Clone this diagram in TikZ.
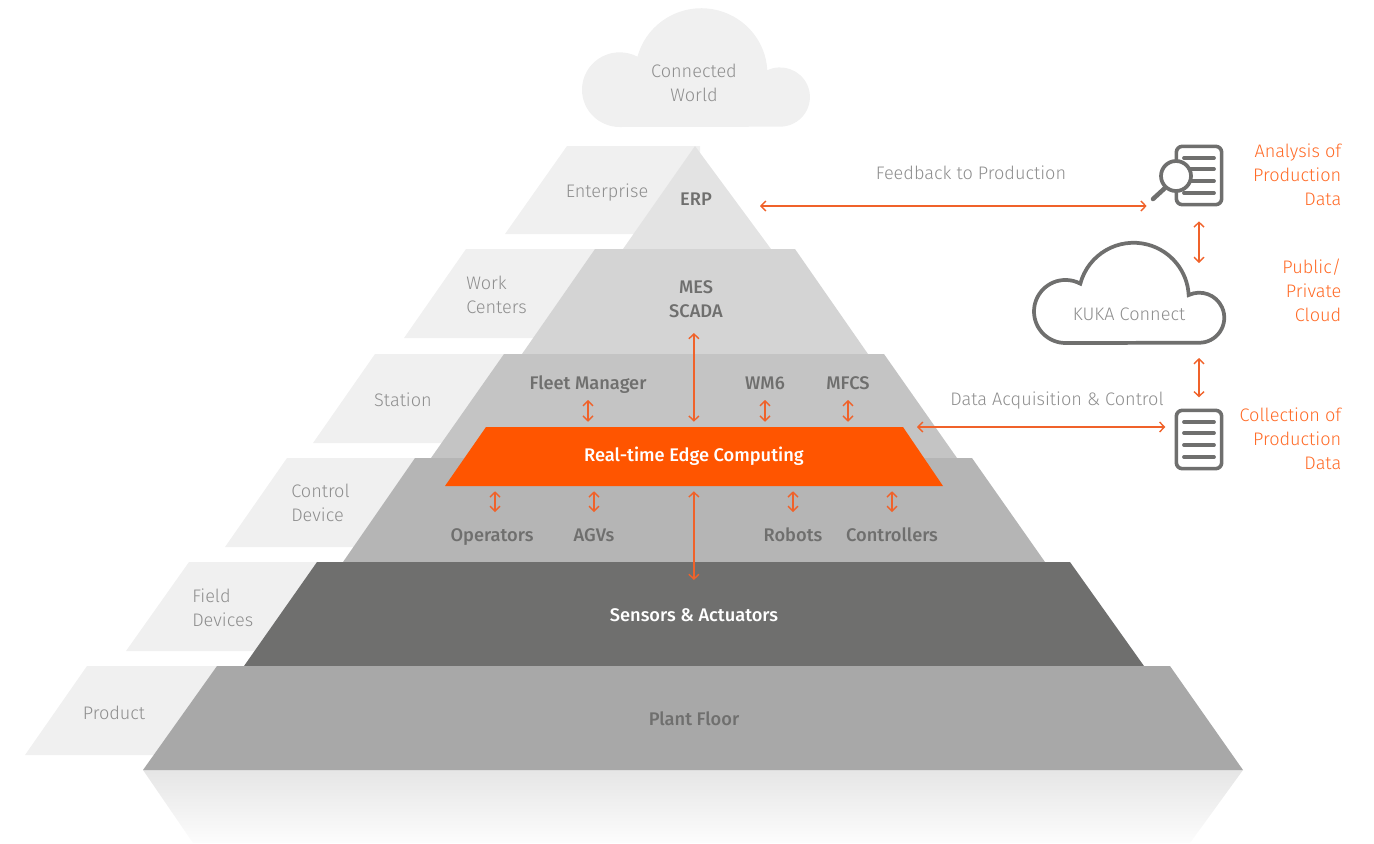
\documentclass[tikz,border=0pt]{standalone}
\usepackage{fontspec}
\setmainfont{Fira Sans}[UprightFont=* Light,BoldFont=* Medium]
\usepackage{tikz}
\usetikzlibrary{arrows.meta}

\definecolor{backgray}{HTML}{F0F0F0}
\definecolor{edgeorange}{HTML}{FF5500}
\definecolor{linkorange}{HTML}{F0622A}
\definecolor{iconorange}{HTML}{FF6A26}
\definecolor{icongray}{HTML}{6F6F6E}
\definecolor{softgray}{HTML}{8E8E8E}

\tikzset{
  softlabel/.style={text=softgray,font=\fontsize{13.6}{18}\selectfont,inner sep=0pt,align=center},
  softleft/.style={softlabel,align=left},
  softone/.style={softlabel,text height=12pt,text depth=3pt},
  hardlabel/.style={text=icongray,font=\fontsize{13.7}{18}\selectfont\bfseries,inner sep=0pt,align=center},
  hardone/.style={hardlabel,text height=12pt,text depth=3pt},
  whitelabel/.style={hardone,text=white},
  sidelabel/.style={text=iconorange,font=\fontsize{13.6}{18}\selectfont,inner sep=0pt,align=right,anchor=east},
  duplex/.style={{Straight Barb[length=3.6pt,width=7.5pt]}-{Straight Barb[length=3.6pt,width=7.5pt]},draw=linkorange,line width=1.05pt},
  docbox/.style={draw=icongray,fill=white,line width=2.7pt,rounded corners=4.5pt,minimum width=34pt,minimum height=43.75pt,inner sep=0pt,outer sep=0pt},
  docline/.style={draw=icongray,line width=2.8pt,line cap=round}
}

\newcommand{\cloudpath}{(32,0) arc (270:62:32) arc (165:3:56) arc (115:-90:25.4) -- cycle}

\begin{document}
\begin{tikzpicture}[x=0.75pt,y=0.75pt]
\useasboundingbox (0,0) rectangle (1374,-843);

% label plates behind the pyramid
\fill[backgray] (567,-146) -- (700,-146) -- (700,-234) -- (505,-234) -- cycle;
\fill[backgray] (466,-249) -- (600,-249) -- (600,-338) -- (404,-338) -- cycle;
\fill[backgray] (375,-354) -- (510,-354) -- (510,-443) -- (313,-443) -- cycle;
\fill[backgray] (287,-458) -- (420,-458) -- (420,-547) -- (225,-547) -- cycle;
\fill[backgray] (189,-562) -- (320,-562) -- (320,-651) -- (126,-651) -- cycle;
\fill[backgray] (87,-666) -- (220,-666) -- (220,-755) -- (25,-755) -- cycle;

% pyramid
\shade[top color=black!10,bottom color=black!1] (143,-770) -- (1243,-770) -- (1190,-843) -- (193,-843) -- cycle;
\fill[black!11] (695,-146) -- (771,-249) -- (623,-249) -- cycle;
\fill[black!17] (595,-249) -- (795,-249) -- (868,-354) -- (522,-354) -- cycle;
\fill[black!23] (504,-354) -- (884,-354) -- (957,-458) -- (431,-458) -- cycle;
\fill[black!29] (415,-458) -- (972,-458) -- (1045,-562) -- (343,-562) -- cycle;
\fill[icongray] (317,-562) -- (1070,-562) -- (1144,-666) -- (244,-666) -- cycle;
\fill[black!34] (217,-666) -- (1170,-666) -- (1243,-770) -- (143,-770) -- cycle;
\fill[edgeorange] (486,-427) -- (903,-427) -- (943,-486) -- (445,-486) -- cycle;

% clouds
\fill[backgray,shift={(582,-127)},xscale=1.18,yscale=1.167] \cloudpath;
\draw[icongray,line width=2.8pt,shift={(1034,-343)},xscale=0.985,yscale=0.985] \cloudpath;

% left labels
\node[softlabel] (world) at (694,-83) {Connected\\World};
\node[softone] (enterprise) at (607,-191) {Enterprise};
\node[softleft,anchor=west] (work) at (466,-295) {Work\\Centers};
\node[softone] (station) at (403,-400) {Station};
\node[softleft,anchor=west] (control) at (291,-503) {Control\\Device};
\node[softleft,anchor=west] (field) at (192,-608) {Field\\Devices};
\node[softone] (product) at (114,-713) {Product};

% pyramid labels
\node[hardone] (erp) at (696,-199) {ERP};
\node[hardlabel] (mes) at (696,-299) {MES\\SCADA};
\node[hardone] (fleet) at (588,-383) {Fleet Manager};
\node[hardone] (wm) at (765,-383) {WM6};
\node[hardone] (mfcs) at (848,-383) {MFCS};
\node[whitelabel,text depth=5pt,minimum width=342pt,minimum height=44.25pt] (edge) at (693.9,-456.5) {Real-time Edge Computing};
\node[hardone] (oper) at (492,-535) {Operators};
\node[hardone] (agv) at (594,-535) {AGVs};
\node[hardone] (robot) at (793,-535) {Robots};
\node[hardone] (ctrl) at (892,-535) {Controllers};
\node[whitelabel] (sensors) at (694,-615) {Sensors \& Actuators};
\node[hardone] (plant) at (694,-719) {Plant Floor};

% right side
\node[softone] (feedback) at (971,-173) {Feedback to Production};
\node[softone] (acquire) at (1057,-399) {Data Acquisition \& Control};
\node[softone] (kuka) at (1129,-314) {KUKA Connect};
\node[sidelabel] (analysistext) at (1341.5,-175) {Analysis of\\Production\\Data};
\node[sidelabel] (cloudtext) at (1341.5,-290) {Public/\\Private\\Cloud};
\node[sidelabel] (collecttext) at (1341.5,-439) {Collection of\\Production\\Data};

% icons
\node[docbox] (analysis) at (1199,-175.5) {};
\node[docbox] (collect) at (1199,-439.5) {};
\draw[docline] (1184,-158) -- (1214,-158);
\draw[docline] (1184,-169) -- (1214,-169);
\draw[docline] (1184,-181) -- (1214,-181);
\draw[docline] (1184,-193) -- (1214,-193);
\draw[docline] (1184,-422) -- (1214,-422);
\draw[docline] (1184,-433) -- (1214,-433);
\draw[docline] (1184,-445) -- (1214,-445);
\draw[docline] (1184,-457) -- (1214,-457);
\draw[icongray,fill=white,line width=2.8pt] (1176,-176) circle (15);
\draw[docline,line width=3.4pt] (1165,-188) -- (1153,-199);

% free ends of the connectors
\coordinate (feedleft) at (760,-206);
\coordinate (dataleft) at (917,-427);
\coordinate (cloudup) at (1199,-263);
\coordinate (clouddown) at (1199,-358);

% connectors
\draw[duplex,shorten >=22.25pt] (feedleft) -- (feedleft -| analysis.west);
\draw[duplex,shorten >=8.25pt] (dataleft) -- (dataleft -| collect.west);
\draw[duplex,shorten <=12.5pt] (analysis.south) -- (cloudup);
\draw[duplex,shorten >=9.75pt] (clouddown) -- (collect.north);
\draw[duplex,shorten <=25.5pt,shorten >=3.75pt] (edge.north |- mes.center) -- (edge.north);
\draw[duplex,shorten >=26.25pt,shorten <=3.75pt] (edge.south) -- (edge.south |- sensors.center);
\draw[duplex,shorten <=12.75pt,shorten >=3.75pt] (fleet.center) -- (fleet.center |- edge.north);
\draw[duplex,shorten <=12.75pt,shorten >=3.75pt] (wm.center) -- (wm.center |- edge.north);
\draw[duplex,shorten <=12.75pt,shorten >=3.75pt] (mfcs.center) -- (mfcs.center |- edge.north);
\draw[duplex,shorten <=3.75pt,shorten >=17.25pt] ([xshift=2.25pt]oper.center |- edge.south) -- ([xshift=2.25pt]oper.center);
\draw[duplex,shorten <=3.75pt,shorten >=17.25pt] (agv.center |- edge.south) -- (agv.center);
\draw[duplex,shorten <=3.75pt,shorten >=17.25pt] (robot.center |- edge.south) -- (robot.center);
\draw[duplex,shorten <=3.75pt,shorten >=17.25pt] (ctrl.center |- edge.south) -- (ctrl.center);
\end{tikzpicture}
\end{document}
